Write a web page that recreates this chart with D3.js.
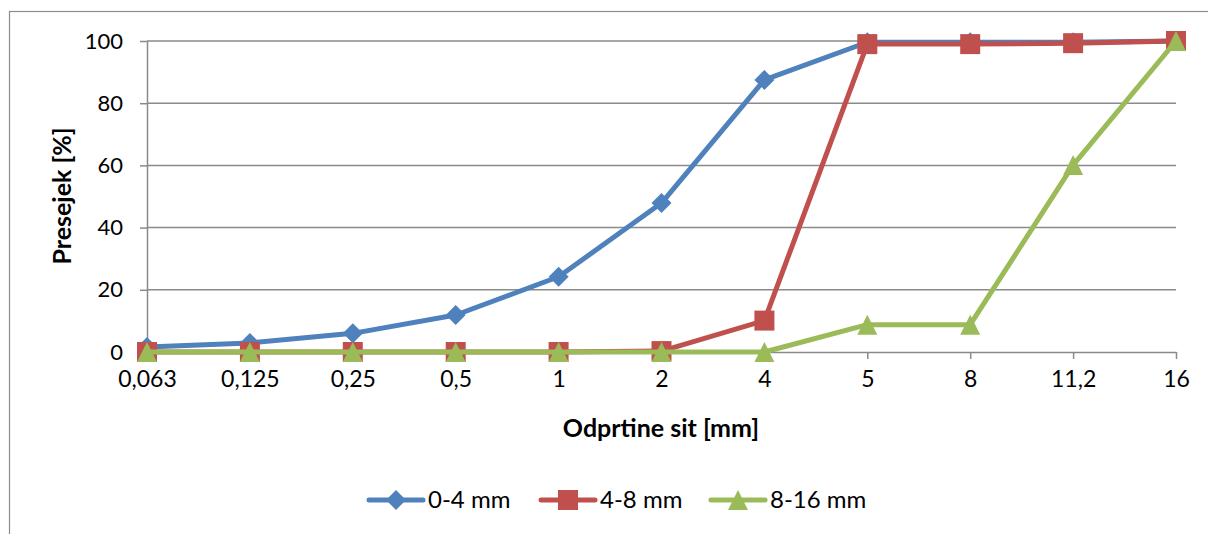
<!DOCTYPE html>
<html>
<head>
<meta charset="utf-8">
<script src="https://cdn.jsdelivr.net/npm/d3@7"></script>
<style>
  html, body { margin: 0; padding: 0; background: #fff; }
  svg { display: block; font-family: Lato, "Open Sans", sans-serif; }
</style>
</head>
<body>
<svg id="chart" width="1208" height="534"></svg>
<script>
// Sieve openings (mm) and cumulative passing (%) for three aggregate fractions
const sieves = ["0,063", "0,125", "0,25", "0,5", "1", "2", "4", "5", "8", "11,2", "16"];
const frac0_4  = [1.6, 2.9, 6.0, 11.9, 24.2, 47.9, 87.5, 99.6, 99.6, 99.6, 100];
const frac4_8  = [0, 0, 0, 0, 0, 0.3, 10.1, 99.0, 99.0, 99.3, 100];
const frac8_16 = [0, 0, 0, 0, 0, 0, 0, 8.8, 8.8, 60.1, 100];
const yTicks = [0, 20, 40, 60, 80, 100];

const seriesNames = ["0-4 mm", "4-8 mm", "8-16 mm"];
const seriesValues = [frac0_4, frac4_8, frac8_16];
const colors = ["#4F81BD", "#C0504D", "#9BBB59"];
const shapes = ["diamond", "square", "triangle"];

const svg = d3.select("#chart");
const plotLeft = 147, plotRight = 1176, plotTop = 41, plotBottom = 352;

const x = d3.scalePoint().domain(sieves).range([plotLeft, plotRight]);
const y = d3.scaleLinear().domain([0, 100]).range([plotBottom, plotTop]);

// Outer chart frame
svg.append("rect")
  .attr("x", 9.5).attr("y", 11.5)
  .attr("width", 1260).attr("height", 600)
  .attr("fill", "none").attr("stroke", "#8c8c8c").attr("stroke-width", 1.2);

// Horizontal gridlines
svg.append("g").selectAll("line").data(yTicks.filter(d => d > 0)).join("line")
  .attr("x1", plotLeft).attr("x2", plotRight)
  .attr("y1", d => y(d)).attr("y2", d => y(d))
  .attr("stroke", "#8a8a8a").attr("stroke-width", 1.5);

// Y axis
const yAxis = svg.append("g").attr("transform", `translate(${plotLeft},0)`)
  .call(d3.axisLeft(y).tickValues(yTicks).tickSize(7).tickSizeOuter(0).tickPadding(17));
yAxis.select(".domain").attr("stroke", "#8a8a8a").attr("stroke-width", 1.5);
yAxis.selectAll(".tick line").attr("stroke", "#8a8a8a").attr("stroke-width", 1.5);
yAxis.selectAll(".tick text").attr("font-size", 22).attr("fill", "#000")
  .attr("font-family", "Lato, 'Open Sans', sans-serif");

// X axis
const xAxis = svg.append("g").attr("transform", `translate(0,${plotBottom})`)
  .call(d3.axisBottom(x).tickSize(7).tickSizeOuter(0).tickPadding(12));
xAxis.select(".domain").attr("stroke", "#8a8a8a").attr("stroke-width", 1.5);
xAxis.selectAll(".tick line").attr("stroke", "#8a8a8a").attr("stroke-width", 1.5);
xAxis.selectAll(".tick text").attr("font-size", 23).attr("fill", "#000")
  .attr("font-family", "Lato, 'Open Sans', sans-serif");

// Axis titles
svg.append("text")
  .attr("transform", "translate(71,196) rotate(-90)")
  .attr("text-anchor", "middle")
  .attr("font-size", 25).attr("font-weight", "bold")
  .text("Presejek [%]");
svg.append("text")
  .attr("x", 661).attr("y", 437)
  .attr("text-anchor", "middle")
  .attr("font-size", 25).attr("font-weight", "bold")
  .text("Odprtine sit [mm]");

// Marker paths centred on (0,0)
function markerPath(shape) {
  if (shape === "diamond") return "M0,-10L10,0L0,10L-10,0Z";
  if (shape === "square") return "M-10,-10H10V10H-10Z";
  return "M0,-10L10,10H-10Z";
}

const line = d3.line().x(d => x(d.cat)).y(d => y(d.v));

seriesValues.forEach((vals, i) => {
  const pts = vals.map((v, j) => ({ cat: sieves[j], v }));
  const g = svg.append("g");
  g.append("path").datum(pts)
    .attr("d", line)
    .attr("fill", "none").attr("stroke", colors[i])
    .attr("stroke-width", 5).attr("stroke-linejoin", "round").attr("stroke-linecap", "round");
  g.selectAll("path.m").data(pts).join("path").attr("class", "m")
    .attr("d", markerPath(shapes[i]))
    .attr("transform", d => `translate(${x(d.cat)},${y(d.v)})`)
    .attr("fill", colors[i]);
});

// Legend
const legendX = [369, 541, 711];
const legend = svg.append("g");
seriesNames.forEach((name, i) => {
  const lx = legendX[i], ly = 500;
  legend.append("line")
    .attr("x1", lx).attr("x2", lx + 54).attr("y1", ly).attr("y2", ly)
    .attr("stroke", colors[i]).attr("stroke-width", 5).attr("stroke-linecap", "round");
  legend.append("path")
    .attr("d", markerPath(shapes[i]))
    .attr("transform", `translate(${lx + 27},${ly})`)
    .attr("fill", colors[i]);
  legend.append("text")
    .attr("x", lx + 59).attr("y", ly + 8)
    .attr("font-size", 24).attr("fill", "#000")
    .text(name);
});
</script>
</body>
</html>
